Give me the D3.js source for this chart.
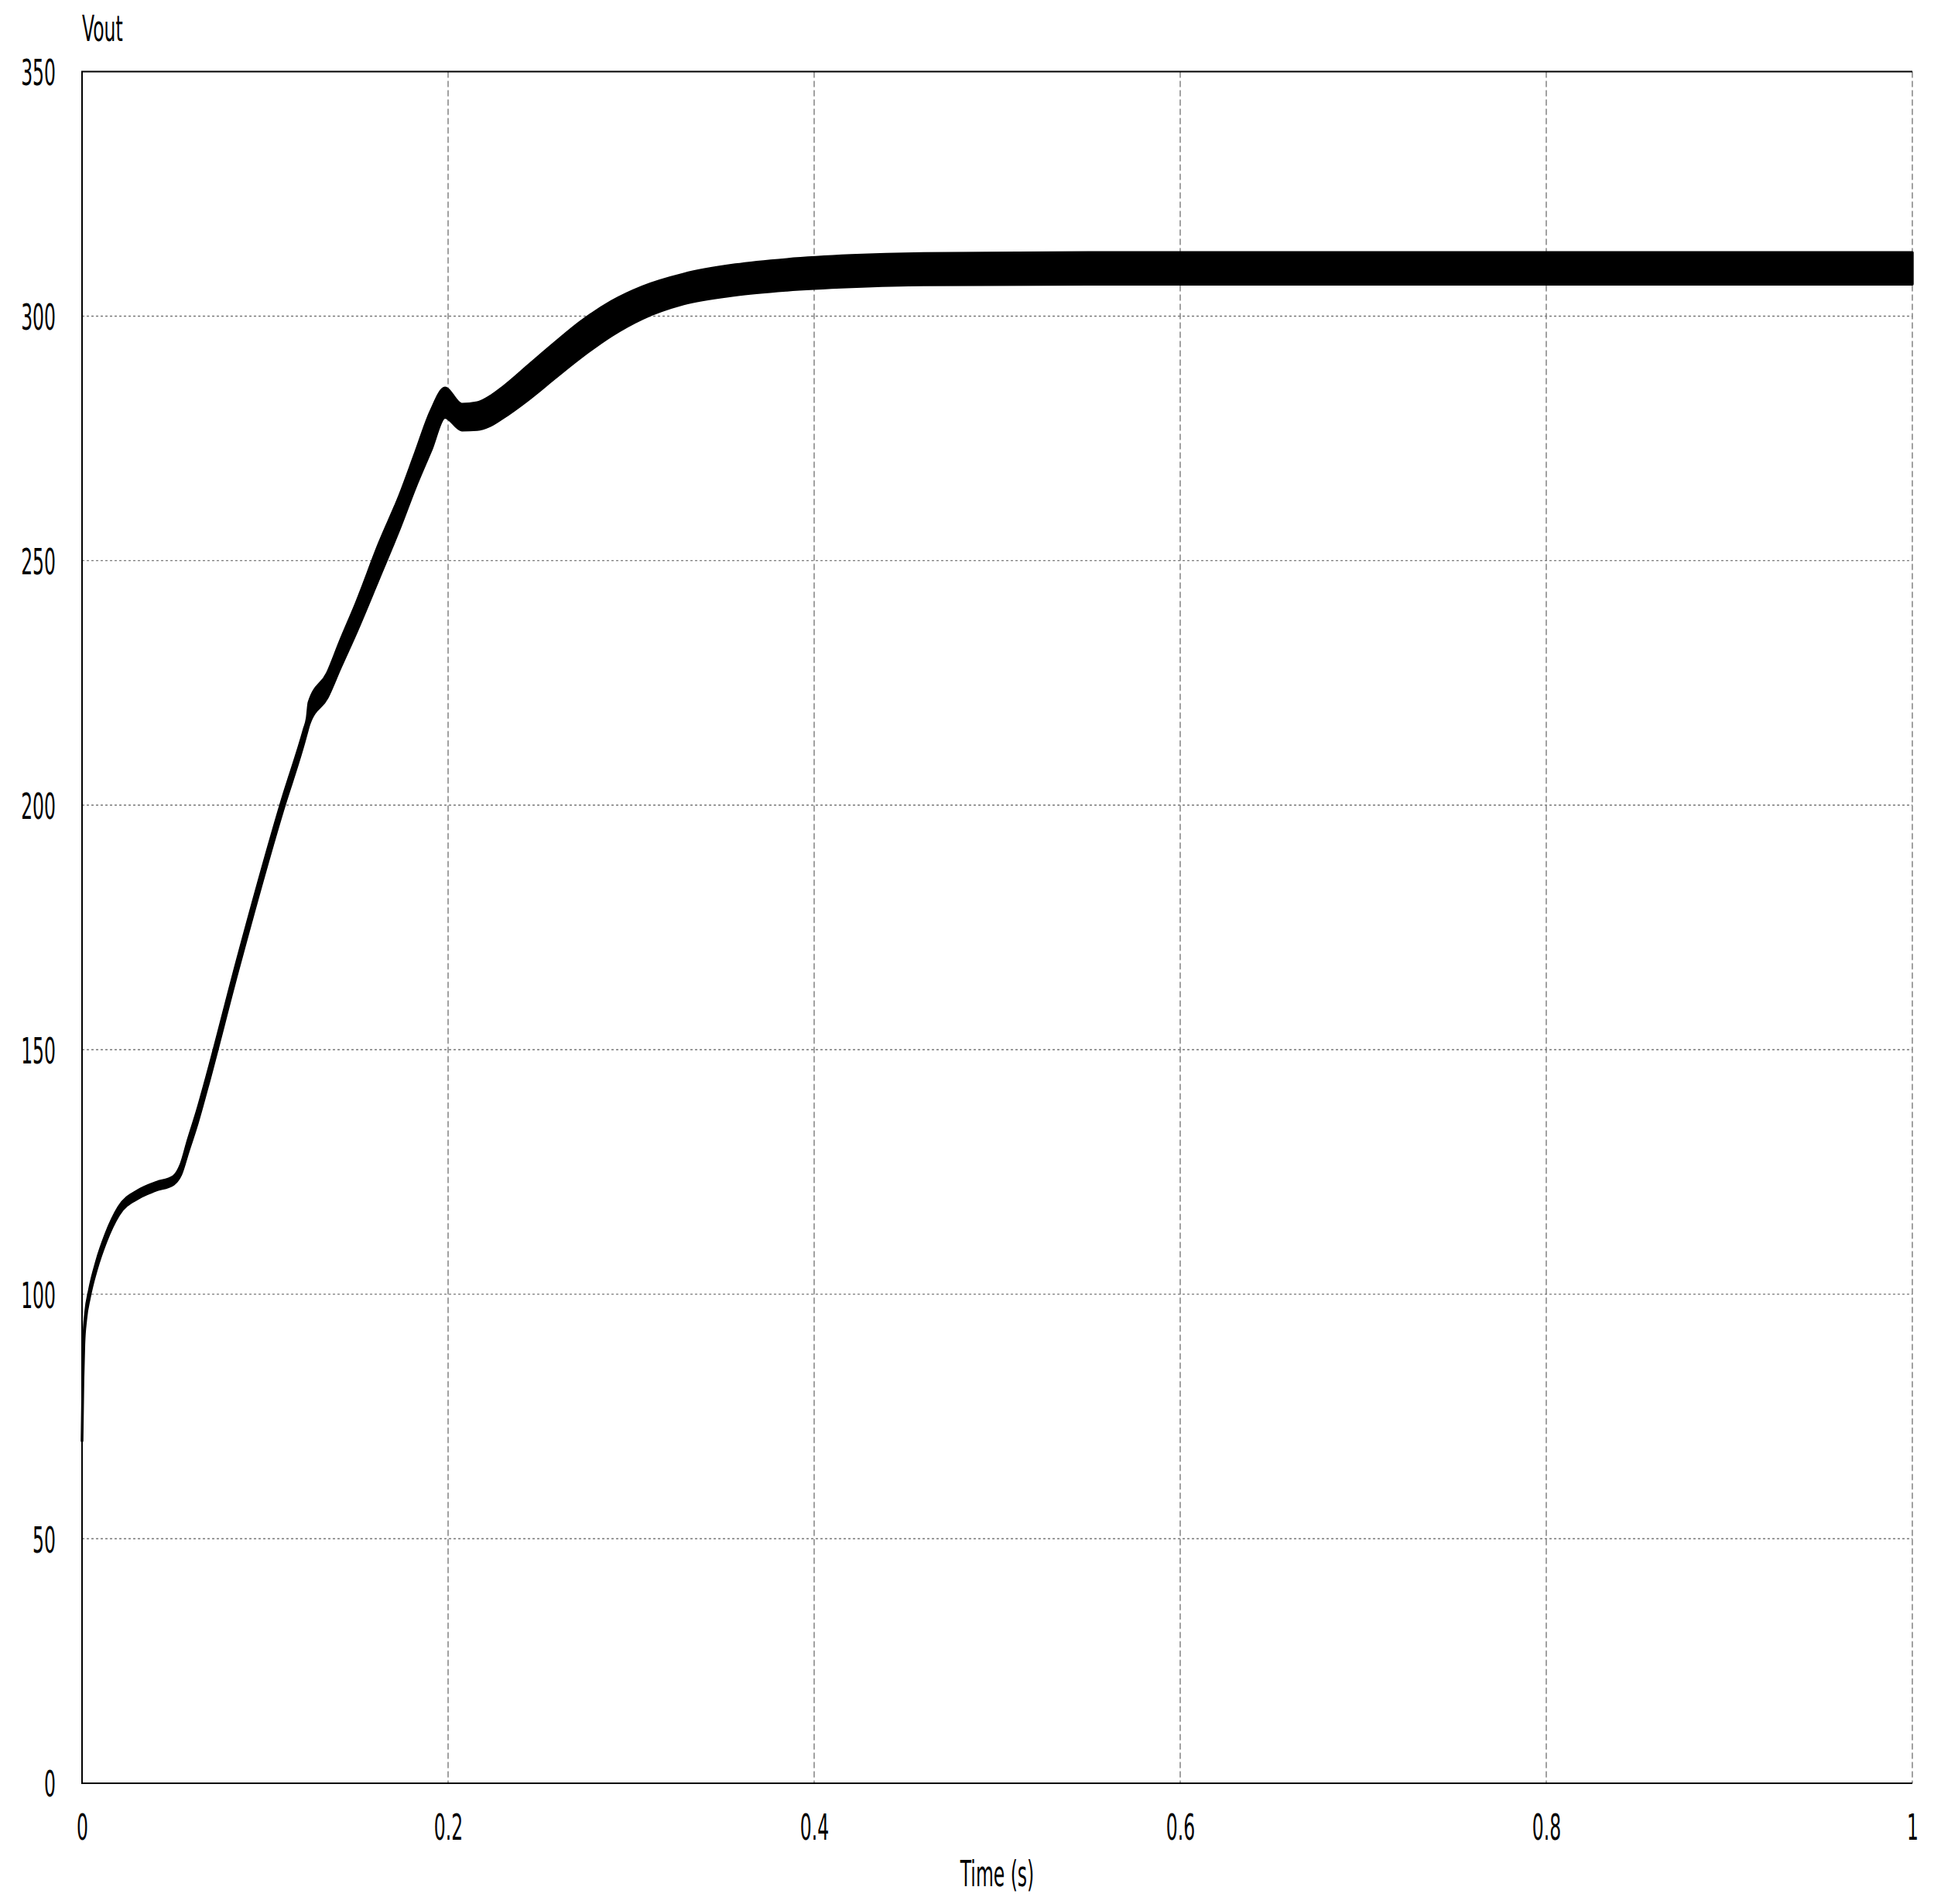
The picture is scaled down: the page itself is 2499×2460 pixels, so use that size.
<!DOCTYPE html>
<html>
<head>
<meta charset="utf-8">
<script src="https://cdn.jsdelivr.net/npm/d3@7"></script>
<style>
  body { margin: 0; background: #fff; }
  .grid-h { stroke: #7a7a7a; stroke-width: 1.4; stroke-dasharray: 3,3; }
  .grid-v { stroke: #7a7a7a; stroke-width: 1.4; stroke-dasharray: 8,4; }
  .lbl { font-family: "DejaVu Sans", Verdana, sans-serif; font-size: 47px; fill: #000; }
</style>
</head>
<body>
<svg id="svgVout"></svg>
<script>

/// DATA ////////////////////////////////////////////////////////////////////////////////

// time (s) and ripple envelope of Vout (upper / lower)
var time = [0, 0.0005, 0.001, 0.002, 0.004, 0.008, 0.013, 0.020, 0.031, 0.040, 0.050, 0.054,
            0.058, 0.063, 0.068, 0.085, 0.1095, 0.1214, 0.1230, 0.1240, 0.134, 0.141, 0.150,
            0.1623, 0.1737, 0.1821, 0.1906, 0.1983, 0.2075, 0.2159, 0.2230, 0.2300, 0.2441,
            0.2582, 0.2723, 0.2892, 0.3061, 0.3287, 0.3569, 0.3851, 0.4203, 0.46, 0.55, 1.0];
var voutHigh = [70, 83.5, 91.2, 96.3, 100.8, 106.8, 112.3, 117.8, 121.3, 122.8, 124.1, 126.5,
            131.6, 137.6, 144.3, 168.6, 201.3, 215.6, 217.8, 221, 227.0, 233.5, 241.5,
            253.5, 263.5, 272.0, 280.6, 285.3, 282.0, 282.3, 283.6, 285.5, 290.0,
            294.5, 298.8, 303.0, 306.0, 308.6, 310.5, 311.6, 312.4, 312.8, 313.0, 313.0];
var voutLow = [70, 82.5, 89.8, 94.7, 99.2, 105.2, 110.7, 116.2, 119.7, 121.2, 122.5, 124.5,
            129.2, 135.0, 141.7, 166.0, 198.7, 213.0, 215.2, 216.5, 222.0, 228.0, 235.5,
            246.5, 256.8, 265.0, 272.5, 279.3, 276.7, 276.8, 277.6, 279.2, 283.0,
            287.3, 291.5, 296.0, 299.5, 302.5, 304.3, 305.3, 306.0, 306.4, 306.5, 306.5];

var xTicks = [0, 0.2, 0.4, 0.6, 0.8, 1];
var yTicks = [0, 50, 100, 150, 200, 250, 300, 350];

/// SETUP ///////////////////////////////////////////////////////////////////////////////

var WIDTH = 2499, HEIGHT = 2460;
var LEFT = 106, TOP = 92.5, RIGHT = 2471, BOTTOM = 2304;

var svg = d3.select('#svgVout')
    .attr('width', WIDTH)
    .attr('height', HEIGHT);

var x = d3.scaleLinear().domain([0, 1]).range([LEFT, RIGHT]);
var y = d3.scaleLinear().domain([0, 350]).range([BOTTOM, TOP]);

var band = time.map(function (t, i) { return { t: t, hi: voutHigh[i], lo: voutLow[i] }; });

/////////////////////////////////////////////////////////////////////////////////////////

// grid
svg.append('g').selectAll('line')
    .data(yTicks.slice(1, -1))
    .enter().append('line')
        .attr('class', 'grid-h')
        .attr('x1', LEFT).attr('x2', RIGHT)
        .attr('y1', function (d) { return y(d) }).attr('y2', function (d) { return y(d) });

svg.append('g').selectAll('line')
    .data(xTicks.slice(1))
    .enter().append('line')
        .attr('class', 'grid-v')
        .attr('y1', TOP).attr('y2', BOTTOM)
        .attr('x1', function (d) { return x(d) }).attr('x2', function (d) { return x(d) });

// frame: top, left, bottom solid
svg.append('path')
    .attr('d', 'M' + RIGHT + ',' + TOP + 'H' + LEFT + 'V' + BOTTOM + 'H' + RIGHT)
    .attr('fill', 'none')
    .attr('stroke', '#000')
    .attr('stroke-width', 2);

// ripple band
var area = d3.area()
    .x(function (d) { return x(d.t) })
    .y0(function (d) { return y(d.lo) })
    .y1(function (d) { return y(d.hi) })
    .curve(d3.curveMonotoneX);

svg.append('path')
    .datum(band)
    .attr('d', area)
    .attr('fill', '#000')
    .attr('stroke', '#000')
    .attr('stroke-width', 3.5)
    .attr('stroke-linejoin', 'round');

// axes
var yAxis = svg.append('g')
    .attr('transform', 'translate(' + LEFT + ',0)')
    .call(d3.axisLeft(y).tickValues(yTicks).tickSize(0).tickPadding(68).tickFormat(function (d) { return d }));
yAxis.select('.domain').remove();
yAxis.selectAll('text')
    .attr('class', 'lbl')
    .attr('dy', '0.36em')
    .attr('transform', 'scale(0.5,1)');

var xAxis = svg.append('g')
    .attr('transform', 'translate(0,' + BOTTOM + ')')
    .call(d3.axisBottom(x).tickValues(xTicks).tickSize(0).tickPadding(40).tickFormat(function (d) { return d }));
xAxis.select('.domain').remove();
xAxis.selectAll('text')
    .attr('class', 'lbl')
    .attr('transform', 'scale(0.5,1)');
xAxis.attr('font-size', null).attr('font-family', null);
yAxis.attr('font-size', null).attr('font-family', null);

// labels
svg.append('text')
    .attr('class', 'lbl')
    .attr('transform', 'translate(' + LEFT + ',53) scale(0.5,1)')
    .text('Vout');

svg.append('text')
    .attr('class', 'lbl')
    .attr('text-anchor', 'middle')
    .attr('transform', 'translate(' + ((LEFT + RIGHT) / 2) + ',2437) scale(0.5,1)')
    .text('Time (s)');

</script>
</body>
</html>
